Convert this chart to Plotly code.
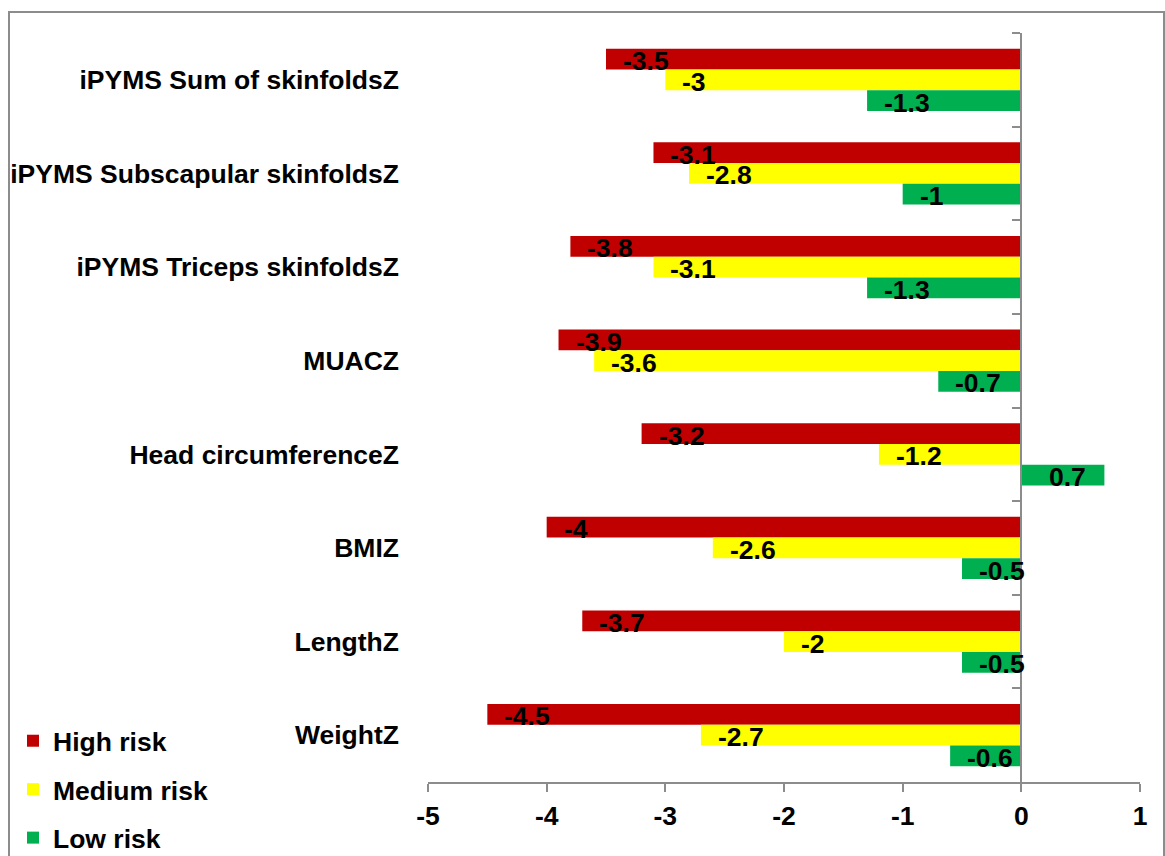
import plotly.graph_objects as go

categories = [
    "iPYMS Sum of skinfoldsZ",
    "iPYMS Subscapular skinfoldsZ",
    "iPYMS Triceps skinfoldsZ",
    "MUACZ",
    "Head circumferenceZ",
    "BMIZ",
    "LengthZ",
    "WeightZ",
]
high_risk = [-3.5, -3.1, -3.8, -3.9, -3.2, -4.0, -3.7, -4.5]
medium_risk = [-3.0, -2.8, -3.1, -3.6, -1.2, -2.6, -2.0, -2.7]
low_risk = [-1.3, -1.0, -1.3, -0.7, 0.7, -0.5, -0.5, -0.6]
series_names = ["High risk", "Medium risk", "Low risk"]
series_values = [high_risk, medium_risk, low_risk]
colors = ["#C00000", "#FFFF00", "#00B050"]
x_ticks = [-5, -4, -3, -2, -1, 0, 1]

FONT = "Liberation Sans, Arial, sans-serif"
FS = 26.5
GRAY = "#8c8c8c"
BARGAP = 0.336

# Canvas geometry (pixels)
W, H = 1165, 856
L, R, T, B = 428, 25, 33, 74
PW, PH = W - L - R, H - T - B


def px_to_paper_x(px):
    return (px - L) / PW


def px_to_paper_y(py):
    return (H - B - py) / PH


fig = go.Figure()
for k, (name, vals, col) in enumerate(zip(series_names, series_values, colors)):
    fig.add_trace(go.Bar(
        y=categories, x=vals, orientation="h", name=name,
        marker=dict(color=col, line=dict(width=0)),
        legendgroup=name, hoverinfo="x+y",
    ))

# invisible trace to register categories on the overlay axis (zero line with boundary ticks)
fig.add_trace(go.Scatter(
    x=[0] * len(categories), y=categories, yaxis="y2", mode="markers",
    marker=dict(opacity=0), showlegend=False, hoverinfo="skip",
))

# value labels at the bar end (inside)
n = len(series_values)
bw = (1 - BARGAP) / n
annotations = []
for k, vals in enumerate(series_values):
    for i, v in enumerate(vals):
        ypos = i + (k - (n - 1) / 2) * bw
        annotations.append(dict(
            x=v, y=ypos, xref="x", yref="y",
            text=f"{v:g}", showarrow=False,
            xanchor="left" if v < 0 else "right",
            xshift=15 if v < 0 else -16, yshift=-2,
            font=dict(family=FONT, size=FS, color="black", weight="bold"),
        ))

fig.update_layout(
    width=W, height=H,
    margin=dict(l=L, r=R, t=T, b=B, autoexpand=False),
    paper_bgcolor="white", plot_bgcolor="white",
    barmode="group", bargap=BARGAP, bargroupgap=0,
    font=dict(family=FONT, size=FS, color="black", weight="bold"),
    xaxis=dict(
        range=[-5, 1], tickvals=x_ticks, ticktext=[f"{t:g}" for t in x_ticks],
        showgrid=False, zeroline=False,
        showline=True, linecolor=GRAY, linewidth=2,
        ticks="outside", ticklen=8, tickcolor=GRAY, tickwidth=2,
        ticklabelstandoff=1,
        tickfont=dict(family=FONT, size=FS, color="black", weight="bold"),
    ),
    yaxis=dict(
        type="category", categoryorder="array", categoryarray=categories,
        range=[len(categories) - 0.5, -0.5],
        showgrid=False, zeroline=False, showline=False, ticks="",
        ticklabelstandoff=28,
        tickfont=dict(family=FONT, size=FS, color="black", weight="bold"),
    ),
    yaxis2=dict(
        type="category", categoryorder="array", categoryarray=categories,
        range=[len(categories) - 0.5, -0.5],
        overlaying="y", anchor="free", side="left",
        position=(0 - (-5)) / (1 - (-5)),
        showgrid=False, zeroline=False, showticklabels=False,
        showline=True, linecolor=GRAY, linewidth=2,
        ticks="outside", ticklen=8, tickcolor=GRAY, tickwidth=2,
        tickson="boundaries",
    ),
    legend=dict(
        x=px_to_paper_x(13), y=px_to_paper_y(717), xanchor="left", yanchor="top",
        traceorder="grouped", tracegroupgap=11,
        font=dict(family=FONT, size=FS, color="black", weight="bold"),
        bgcolor="rgba(0,0,0,0)",
    ),
    annotations=annotations,
    shapes=[dict(
        type="rect", xref="paper", yref="paper",
        x0=px_to_paper_x(9), x1=px_to_paper_x(1164),
        y0=px_to_paper_y(870), y1=px_to_paper_y(12),
        line=dict(color=GRAY, width=2), fillcolor="rgba(0,0,0,0)", layer="below",
    )],
    showlegend=True,
)

fig.write_html("out.html")
